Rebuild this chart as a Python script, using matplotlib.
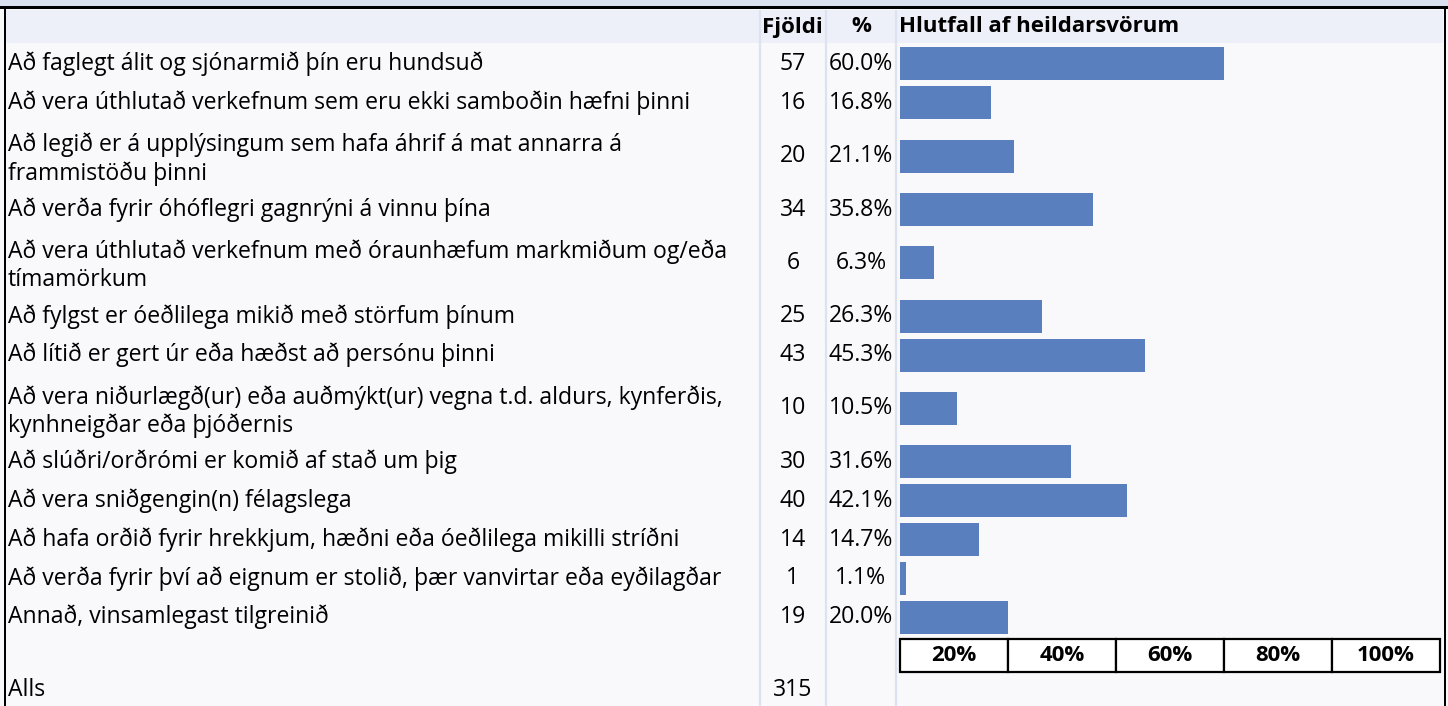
import matplotlib
matplotlib.use("Agg")
import matplotlib.pyplot as plt
from matplotlib.patches import Rectangle

plt.rcParams['font.family'] = ['Open Sans', 'DejaVu Sans']

# ---------------- data ----------------
labels = [
    "Að faglegt álit og sjónarmið þín eru hundsuð",
    "Að vera úthlutað verkefnum sem eru ekki samboðin hæfni þinni",
    "Að legið er á upplýsingum sem hafa áhrif á mat annarra á\nframmistöðu þinni",
    "Að verða fyrir óhóflegri gagnrýni á vinnu þína",
    "Að vera úthlutað verkefnum með óraunhæfum markmiðum og/eða\ntímamörkum",
    "Að fylgst er óeðlilega mikið með störfum þínum",
    "Að lítið er gert úr eða hæðst að persónu þinni",
    "Að vera niðurlægð(ur) eða auðmýkt(ur) vegna t.d. aldurs, kynferðis,\nkynhneigðar eða þjóðernis",
    "Að slúðri/orðrómi er komið af stað um þig",
    "Að vera sniðgengin(n) félagslega",
    "Að hafa orðið fyrir hrekkjum, hæðni eða óeðlilega mikilli stríðni",
    "Að verða fyrir því að eignum er stolið, þær vanvirtar eða eyðilagðar",
    "Annað, vinsamlegast tilgreinið",
]
counts = [57, 16, 20, 34, 6, 25, 43, 10, 30, 40, 14, 1, 19]
pcts = [60.0, 16.8, 21.1, 35.8, 6.3, 26.3, 45.3, 10.5, 31.6, 42.1, 14.7, 1.1, 20.0]
total_label = "Alls"
total_count = 315
header_count = "Fjöldi"
header_pct = "%"
header_bar = "Hlutfall af heildarsvörum"
axis_ticks = [20, 40, 60, 80, 100]

# ---------------- layout (pixels) ----------------
W, H = 1448, 706
SINGLE, DOUBLE = 38.8, 68.0
TOP = 44.5
BAR_H = 33
BAR_COLOR = '#5a7fbe'
SEP_COLOR = '#dce2f0'
FS = 16.6
FS_NUM = 16.6
FS_HEAD = 16

fig = plt.figure(figsize=(W / 100, H / 100), dpi=100)
bg = fig.add_axes([0, 0, 1, 1])
bg.set_xlim(0, W)
bg.set_ylim(H, 0)
bg.axis('off')

bg.add_patch(Rectangle((0, 0), W, H, facecolor='#f9f9fc', edgecolor='none', zorder=0))
bg.add_patch(Rectangle((0, 0), W, 6.5, facecolor='#dbe1ee', edgecolor='none', zorder=1))
bg.add_patch(Rectangle((6, 9.5), 1437, 33.5, facecolor='#edf0f8', edgecolor='none', zorder=1))
bg.add_patch(Rectangle((0, 6), W, 2.5, facecolor='black', edgecolor='none', zorder=5))
bg.add_patch(Rectangle((4, 6), 2, H, facecolor='black', edgecolor='none', zorder=5))
bg.add_patch(Rectangle((1443.5, 6), 2.5, H, facecolor='black', edgecolor='none', zorder=5))
for xs in (760, 825.5, 896):
    bg.plot([xs, xs], [9.5, H], color=SEP_COLOR, lw=1.6, zorder=2, solid_capstyle='butt')

# header
hy = 27
bg.text(792.5, hy, header_count, ha='center', va='center', fontsize=FS_HEAD, fontweight='bold', zorder=6)
bg.text(861, hy, header_pct, ha='center', va='center', fontsize=FS_HEAD, fontweight='bold', zorder=6)
bg.text(899, hy, header_bar, ha='left', va='center', fontsize=FS_HEAD, fontweight='bold', zorder=6)

# rows
centers = []
y = TOP
for lab in labels:
    h = DOUBLE if '\n' in lab else SINGLE
    centers.append(y + h / 2)
    y += h

for lab, c, n, p in zip(labels, centers, counts, pcts):
    off = 3 if '\n' in lab else 0
    bg.text(8, c + off, lab, ha='left', va='center', fontsize=FS, linespacing=1.2, zorder=6)
    bg.text(793, c, f"{n}", ha='center', va='center', fontsize=FS_NUM, zorder=6)
    bg.text(861, c, f"{p:.1f}%", ha='center', va='center', fontsize=FS_NUM, zorder=6)

bg.text(8, 690, total_label, ha='left', va='center', fontsize=FS, zorder=6)
bg.text(793, 690, f"{total_count}", ha='center', va='center', fontsize=FS_NUM, zorder=6)

# bars
bx = fig.add_axes([900 / W, 0, 540 / W, 1])
bx.set_xlim(0, 100)
bx.set_ylim(H, 0)
bx.axis('off')
bx.patch.set_alpha(0)
bx.barh(centers, pcts, height=BAR_H, color=BAR_COLOR, zorder=3)

box_top, box_h = 639, 33
for t in axis_ticks:
    bx.add_patch(Rectangle((t - 20, box_top), 20, box_h, facecolor='white',
                           edgecolor='black', lw=1.6, clip_on=False, zorder=4))
    bx.text(t - 10, box_top + box_h / 2, f"{t}%", ha='center', va='center',
            fontsize=FS_HEAD, fontweight='bold', zorder=5)

fig.savefig('out.png', dpi=100)
